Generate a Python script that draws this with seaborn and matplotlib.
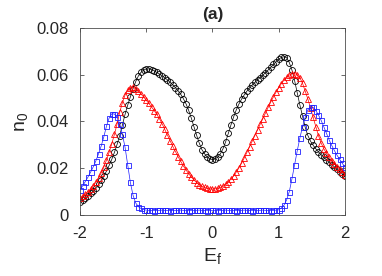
import numpy as np
import pandas as pd
import seaborn as sns
import matplotlib
matplotlib.use("Agg")
import matplotlib.pyplot as plt

# values, E_f = -2 ... 2 in steps of 0.04
black = [
    0.0057, 0.0064, 0.0072, 0.0082, 0.0092, 0.0104, 0.0116, 0.0131, 0.0148, 0.0166,
    0.0188, 0.0212, 0.0238, 0.0268, 0.0302, 0.0340, 0.0385, 0.0430, 0.0470, 0.0505,
    0.0540, 0.0570, 0.0594, 0.0610, 0.0620, 0.0625,
    0.0625, 0.0622, 0.0617, 0.0610, 0.0603, 0.0595, 0.0587, 0.0578, 0.0568, 0.0557,
    0.0545, 0.0532, 0.0517, 0.0498, 0.0476, 0.0448, 0.0415, 0.0378, 0.0342, 0.0308,
    0.0280, 0.0262, 0.0248, 0.0240,
    0.0237,
    0.0240, 0.0248, 0.0262, 0.0284, 0.0314, 0.0350, 0.0386, 0.0420, 0.0450, 0.0475,
    0.0496, 0.0514, 0.0530, 0.0544, 0.0556, 0.0567, 0.0578, 0.0588, 0.0598, 0.0609,
    0.0620, 0.0632, 0.0644, 0.0656,
    0.0667, 0.0674, 0.0677, 0.0673, 0.0652, 0.0620, 0.0575, 0.0522, 0.0470, 0.0423,
    0.0375, 0.0340, 0.0316, 0.0298, 0.0283, 0.0270, 0.0258, 0.0247, 0.0236, 0.0226,
    0.0216, 0.0206, 0.0196, 0.0186, 0.0176, 0.0165,
]
red = [
    0.0073, 0.0080, 0.0090, 0.0100, 0.0110, 0.0124, 0.0140, 0.0158, 0.0180, 0.0205,
    0.0235, 0.0268, 0.0305, 0.0345, 0.0390, 0.0440, 0.0480, 0.0513, 0.0533, 0.0545,
    0.0546, 0.0540, 0.0530, 0.0518, 0.0505, 0.0491,
    0.0477, 0.0462, 0.0447, 0.0430, 0.0412, 0.0390, 0.0366, 0.0342, 0.0318, 0.0294,
    0.0272, 0.0250, 0.0230, 0.0210, 0.0193, 0.0177, 0.0163, 0.0150, 0.0139, 0.0130,
    0.0123, 0.0118, 0.0114, 0.0112,
    0.0111,
    0.0112, 0.0114, 0.0118, 0.0124, 0.0132, 0.0142, 0.0154, 0.0168, 0.0184, 0.0202,
    0.0222, 0.0244, 0.0268, 0.0292, 0.0316, 0.0340, 0.0364, 0.0388, 0.0412, 0.0436,
    0.0460, 0.0483, 0.0505, 0.0526,
    0.0545, 0.0562, 0.0577, 0.0590, 0.0599, 0.0604, 0.0605, 0.0600, 0.0587, 0.0563,
    0.0530, 0.0496, 0.0458, 0.0418, 0.0378, 0.0340, 0.0308, 0.0284, 0.0264, 0.0247,
    0.0232, 0.0219, 0.0207, 0.0196, 0.0184, 0.0172,
]
blue = [
    0.0107, 0.0125, 0.0143, 0.0162, 0.0183, 0.0206, 0.0232, 0.0262, 0.0295, 0.0335,
    0.0380, 0.0415, 0.0433, 0.0432, 0.0418, 0.0390, 0.0345, 0.0290, 0.0215, 0.0140,
    0.0085, 0.0052, 0.0036, 0.0028, 0.0023, 0.0021,
    0.0020, 0.0020, 0.0019, 0.0020, 0.0020, 0.0021, 0.0020, 0.0020, 0.0019, 0.0020,
    0.0020, 0.0020, 0.0021, 0.0020, 0.0020, 0.0019, 0.0020, 0.0020, 0.0020, 0.0021,
    0.0020, 0.0020, 0.0019, 0.0020,
    0.0020,
    0.0020, 0.0019, 0.0020, 0.0020, 0.0021, 0.0020, 0.0020, 0.0020, 0.0019, 0.0020,
    0.0020, 0.0021, 0.0020, 0.0020, 0.0019, 0.0020, 0.0020, 0.0020, 0.0021, 0.0020,
    0.0020, 0.0019, 0.0020, 0.0021,
    0.0022, 0.0030, 0.0042, 0.0065, 0.0100, 0.0155, 0.0215, 0.0275, 0.0330, 0.0378,
    0.0418, 0.0450, 0.0463, 0.0460, 0.0447, 0.0428, 0.0405, 0.0378, 0.0350, 0.0322,
    0.0298, 0.0276, 0.0256, 0.0238, 0.0221, 0.0205,
]
ef = np.linspace(-2, 2, len(black))

xticks = [-2, -1, 0, 1, 2]
xtick_labels = ["-2", "-1", "0", "1", "2"]
yticks = [0, 0.02, 0.04, 0.06, 0.08]
ytick_labels = ["0", "0.02", "0.04", "0.06", "0.08"]

df = pd.DataFrame({"Ef": ef, "black": black, "red": red, "blue": blue})

sns.set_style("ticks")
plt.rcParams["font.family"] = ["Liberation Sans", "DejaVu Sans"]

fig = plt.figure(figsize=(3.82, 2.76), dpi=100)
ax = fig.add_axes([0.2094, 0.221, 0.6936, 0.6776])

series = [("black", "k", "o", 4.3), ("red", "r", "^", 4.6), ("blue", "#1f1fff", "s", 3.6)]
for col, c, m, ms in series:
    sns.lineplot(data=df, x="Ef", y=col, ax=ax, color=c, marker=m, markersize=ms,
                 mfc="none", mec=c, mew=0.6, linewidth=0.5, legend=False)

ax.set_xlim(-2, 2)
ax.set_ylim(0, 0.08)
ax.set_xticks(xticks)
ax.set_xticklabels(xtick_labels)
ax.set_yticks(yticks)
ax.set_yticklabels(ytick_labels)
ax.tick_params(direction="in", top=True, right=True, labelsize=12, length=3,
               width=0.6, color="#4d4d4d")
ax.tick_params(axis="x", pad=8)
ax.tick_params(axis="y", pad=8)
for s in ax.spines.values():
    s.set_visible(True)
    s.set_linewidth(0.6)
    s.set_color("#4d4d4d")

ax.set_xlabel("E$_\\mathregular{f}$", fontsize=14, labelpad=4)
ax.set_ylabel("n$_\\mathregular{0}$", fontsize=14, labelpad=4)
ax.set_title("(a)", fontsize=12.5, fontweight="bold", pad=6.5)

fig.savefig("out.png", dpi=100)
